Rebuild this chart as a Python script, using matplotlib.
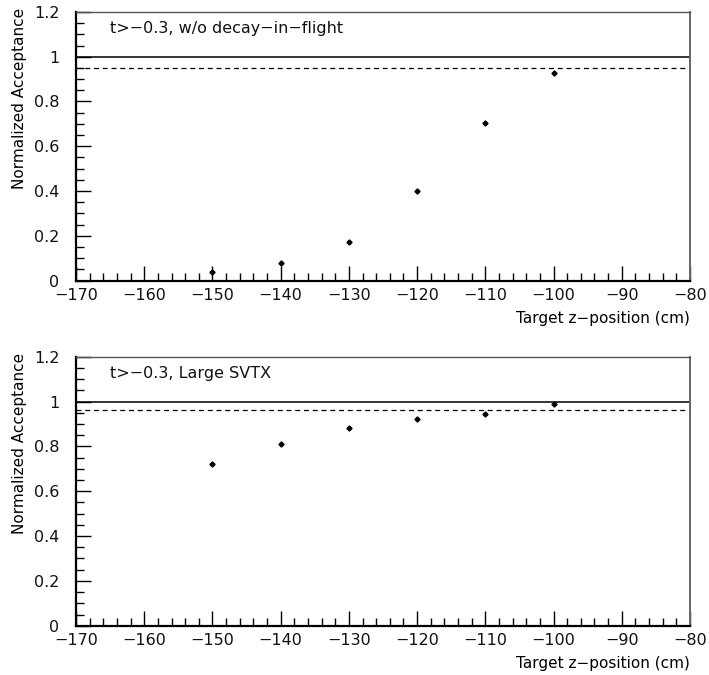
import matplotlib
matplotlib.use("Agg")
import matplotlib.pyplot as plt
from matplotlib.ticker import MultipleLocator, FuncFormatter

plt.rcParams['font.family'] = ['DejaVu Sans']

z_pos = [-150, -140, -130, -120, -110, -100]
acc_no_dif = [0.037, 0.079, 0.171, 0.400, 0.704, 0.926]
acc_large_svtx = [0.720, 0.812, 0.880, 0.922, 0.944, 0.989]
ref_no_dif = 0.949
ref_large_svtx = 0.961
labels = ["t>\u22120.3, w/o decay\u2212in\u2212flight", "t>\u22120.3, Large SVTX"]
x_title = "Target z\u2212position (cm)"
y_title = "Normalized Acceptance"

fig = plt.figure(figsize=(7.09, 6.75), dpi=100)
ax_top = fig.add_axes([0.1072, 0.5843, 0.866, 0.398])
ax_bot = fig.add_axes([0.1072, 0.0730, 0.866, 0.3985])

fmt = FuncFormatter(lambda v, p: ("%g" % round(v, 3)).replace("-", "\u2212"))

for ax, vals, ref, lab in [(ax_top, acc_no_dif, ref_no_dif, labels[0]),
                           (ax_bot, acc_large_svtx, ref_large_svtx, labels[1])]:
    ax.set_xlim(-170, -80)
    ax.set_ylim(0, 1.2)
    ax.axhline(1.0, color='black', lw=1.1)
    ax.axhline(ref, color='black', lw=0.9, ls=(0, (4, 3)))
    ax.plot(z_pos, vals, ls='none', marker='D', ms=2.6, color='black')
    ax.text(0.055, 0.937, lab, transform=ax.transAxes, fontsize=11.5,
            ha='left', va='center', color='#111111')
    ax.xaxis.set_major_locator(MultipleLocator(10))
    ax.xaxis.set_minor_locator(MultipleLocator(2))
    ax.yaxis.set_major_locator(MultipleLocator(0.2))
    ax.yaxis.set_minor_locator(MultipleLocator(0.05))
    ax.xaxis.set_major_formatter(fmt)
    ax.yaxis.set_major_formatter(fmt)
    ax.tick_params(which='both', direction='in', top=False, right=False,
                   labelsize=11.5, width=1, labelcolor='#111111')
    ax.tick_params(which='major', length=11)
    ax.tick_params(which='minor', length=5.5)
    ax.tick_params(axis='y', which='major', pad=12)
    ax.tick_params(axis='x', which='major', pad=5)
    ax.set_xlabel(x_title, loc='right', fontsize=11, labelpad=6)
    ax.set_ylabel(y_title, fontsize=11, ha='right', va='center')
    ax.yaxis.set_label_coords(-0.092, 1.015)
    ax.spines['left'].set_linewidth(1.6)
    ax.spines['bottom'].set_linewidth(1.6)
    ax.spines['top'].set_color('#555555')
    ax.spines['right'].set_color('#666666')
    ax.spines['top'].set_linewidth(1.0)
    ax.spines['right'].set_linewidth(1.4)

fig.savefig("out.png", dpi=100)
